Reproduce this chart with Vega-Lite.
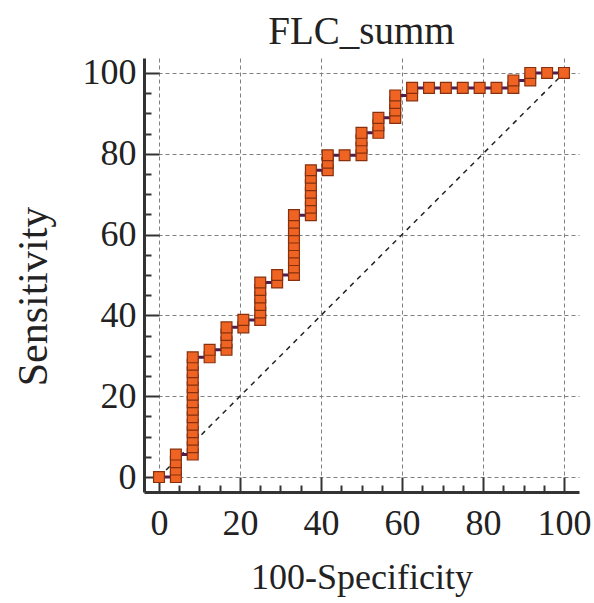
{
  "$schema": "https://vega.github.io/schema/vega-lite/v6.json",
  "width": 435,
  "height": 434,
  "autosize": "none",
  "padding": {"left": 144, "top": 58, "right": 15, "bottom": 111},
  "background": "white",
  "config": {"view": {"stroke": null}},
  "title": {
    "text": "FLC_summ",
    "font": "Liberation Serif",
    "fontSize": 39,
    "fontWeight": "normal",
    "color": "#222222",
    "anchor": "middle",
    "baseline": "alphabetic",
    "offset": 14,
    "dy": 42
  },
  "data": {
    "values": [
      {"ord": 1, "fpr": 0, "sens": 0},
      {"ord": 2, "fpr": 4.17, "sens": 0},
      {"ord": 3, "fpr": 4.17, "sens": 1.85},
      {"ord": 4, "fpr": 4.17, "sens": 3.7},
      {"ord": 5, "fpr": 4.17, "sens": 5.56},
      {"ord": 6, "fpr": 8.33, "sens": 5.56},
      {"ord": 7, "fpr": 8.33, "sens": 7.41},
      {"ord": 8, "fpr": 8.33, "sens": 9.26},
      {"ord": 9, "fpr": 8.33, "sens": 11.11},
      {"ord": 10, "fpr": 8.33, "sens": 12.96},
      {"ord": 11, "fpr": 8.33, "sens": 14.81},
      {"ord": 12, "fpr": 8.33, "sens": 16.67},
      {"ord": 13, "fpr": 8.33, "sens": 18.52},
      {"ord": 14, "fpr": 8.33, "sens": 20.37},
      {"ord": 15, "fpr": 8.33, "sens": 22.22},
      {"ord": 16, "fpr": 8.33, "sens": 24.07},
      {"ord": 17, "fpr": 8.33, "sens": 25.93},
      {"ord": 18, "fpr": 8.33, "sens": 27.78},
      {"ord": 19, "fpr": 8.33, "sens": 29.63},
      {"ord": 20, "fpr": 12.5, "sens": 29.63},
      {"ord": 21, "fpr": 12.5, "sens": 31.48},
      {"ord": 22, "fpr": 16.67, "sens": 31.48},
      {"ord": 23, "fpr": 16.67, "sens": 33.33},
      {"ord": 24, "fpr": 16.67, "sens": 35.19},
      {"ord": 25, "fpr": 16.67, "sens": 37.04},
      {"ord": 26, "fpr": 20.83, "sens": 37.04},
      {"ord": 27, "fpr": 20.83, "sens": 38.89},
      {"ord": 28, "fpr": 25, "sens": 38.89},
      {"ord": 29, "fpr": 25, "sens": 40.74},
      {"ord": 30, "fpr": 25, "sens": 42.59},
      {"ord": 31, "fpr": 25, "sens": 44.44},
      {"ord": 32, "fpr": 25, "sens": 46.3},
      {"ord": 33, "fpr": 25, "sens": 48.15},
      {"ord": 34, "fpr": 29.17, "sens": 48.15},
      {"ord": 35, "fpr": 29.17, "sens": 50},
      {"ord": 36, "fpr": 33.33, "sens": 50},
      {"ord": 37, "fpr": 33.33, "sens": 51.85},
      {"ord": 38, "fpr": 33.33, "sens": 53.7},
      {"ord": 39, "fpr": 33.33, "sens": 55.56},
      {"ord": 40, "fpr": 33.33, "sens": 57.41},
      {"ord": 41, "fpr": 33.33, "sens": 59.26},
      {"ord": 42, "fpr": 33.33, "sens": 61.11},
      {"ord": 43, "fpr": 33.33, "sens": 62.96},
      {"ord": 44, "fpr": 33.33, "sens": 64.81},
      {"ord": 45, "fpr": 37.5, "sens": 64.81},
      {"ord": 46, "fpr": 37.5, "sens": 66.67},
      {"ord": 47, "fpr": 37.5, "sens": 68.52},
      {"ord": 48, "fpr": 37.5, "sens": 70.37},
      {"ord": 49, "fpr": 37.5, "sens": 72.22},
      {"ord": 50, "fpr": 37.5, "sens": 74.07},
      {"ord": 51, "fpr": 37.5, "sens": 75.93},
      {"ord": 52, "fpr": 41.67, "sens": 75.93},
      {"ord": 53, "fpr": 41.67, "sens": 77.78},
      {"ord": 54, "fpr": 41.67, "sens": 79.63},
      {"ord": 55, "fpr": 45.83, "sens": 79.63},
      {"ord": 56, "fpr": 50, "sens": 79.63},
      {"ord": 57, "fpr": 50, "sens": 81.48},
      {"ord": 58, "fpr": 50, "sens": 83.33},
      {"ord": 59, "fpr": 50, "sens": 85.19},
      {"ord": 60, "fpr": 54.17, "sens": 85.19},
      {"ord": 61, "fpr": 54.17, "sens": 87.04},
      {"ord": 62, "fpr": 54.17, "sens": 88.89},
      {"ord": 63, "fpr": 58.33, "sens": 88.89},
      {"ord": 64, "fpr": 58.33, "sens": 90.74},
      {"ord": 65, "fpr": 58.33, "sens": 92.59},
      {"ord": 66, "fpr": 58.33, "sens": 94.44},
      {"ord": 67, "fpr": 62.5, "sens": 94.44},
      {"ord": 68, "fpr": 62.5, "sens": 96.3},
      {"ord": 69, "fpr": 66.67, "sens": 96.3},
      {"ord": 70, "fpr": 70.83, "sens": 96.3},
      {"ord": 71, "fpr": 75, "sens": 96.3},
      {"ord": 72, "fpr": 79.17, "sens": 96.3},
      {"ord": 73, "fpr": 83.33, "sens": 96.3},
      {"ord": 74, "fpr": 87.5, "sens": 96.3},
      {"ord": 75, "fpr": 87.5, "sens": 98.15},
      {"ord": 76, "fpr": 91.67, "sens": 98.15},
      {"ord": 77, "fpr": 91.67, "sens": 100},
      {"ord": 78, "fpr": 95.83, "sens": 100},
      {"ord": 79, "fpr": 100, "sens": 100}
    ]
  },
  "encoding": {
    "x": {
      "field": "fpr",
      "type": "quantitative",
      "scale": {"domain": [-3.7, 103.7], "nice": false, "zero": false},
      "axis": {
        "title": "100-Specificity",
        "values": [0, 5, 10, 15, 20, 25, 30, 35, 40, 45, 50, 55, 60, 65, 70, 75, 80, 85, 90, 95, 100],
        "grid": true,
        "gridColor": "#808080",
        "gridDash": [4, 3],
        "gridWidth": 1,
        "gridOpacity": {"condition": {"test": "datum.value % 20 === 0", "value": 1}, "value": 0},
        "domainColor": "#333333",
        "domainWidth": 3,
        "tickColor": "#333333",
        "tickWidth": 2,
        "tickSize": {"condition": {"test": "datum.value % 20 === 0", "value": -15}, "value": -7},
        "labelExpr": "datum.value % 20 === 0 ? datum.label : ''",
        "labelFlush": false,
        "labelFont": "Liberation Serif",
        "labelFontSize": 36,
        "labelColor": "#222222",
        "labelPadding": 29,
        "titleFont": "Liberation Serif",
        "titleFontSize": 36,
        "titleFontWeight": "normal",
        "titleColor": "#222222",
        "titlePadding": 19
      }
    },
    "y": {
      "field": "sens",
      "type": "quantitative",
      "scale": {"domain": [-3.7, 103.7], "nice": false, "zero": false},
      "axis": {
        "title": "Sensitivity",
        "values": [0, 5, 10, 15, 20, 25, 30, 35, 40, 45, 50, 55, 60, 65, 70, 75, 80, 85, 90, 95, 100],
        "grid": true,
        "gridColor": "#808080",
        "gridDash": [4, 3],
        "gridWidth": 1,
        "gridOpacity": {"condition": {"test": "datum.value % 20 === 0", "value": 1}, "value": 0},
        "domainColor": "#333333",
        "domainWidth": 3,
        "tickColor": "#333333",
        "tickWidth": 2,
        "tickSize": {"condition": {"test": "datum.value % 20 === 0", "value": -15}, "value": -7},
        "labelExpr": "datum.value % 20 === 0 ? datum.label : ''",
        "labelFlush": false,
        "labelFont": "Liberation Serif",
        "labelFontSize": 36,
        "labelColor": "#222222",
        "labelPadding": 23,
        "titleFont": "Liberation Serif",
        "titleFontSize": 42,
        "titleFontWeight": "normal",
        "titleColor": "#222222",
        "titlePadding": 27,
        "titleY": 238
      }
    }
  },
  "layer": [
    {
      "data": {"values": [{"fpr": 0, "sens": 0}, {"fpr": 100, "sens": 100}]},
      "mark": {"type": "line", "color": "#222222", "strokeWidth": 1.5, "strokeDash": [5, 5]},
      "encoding": {}
    },
    {
      "mark": {"type": "line", "color": "#4e1d4f", "strokeWidth": 3},
      "encoding": {"order": {"field": "ord", "type": "quantitative"}}
    },
    {
      "mark": {"type": "point", "shape": "square", "filled": true, "size": 118, "color": "#ef6422", "stroke": "#86300f", "strokeWidth": 1.2, "opacity": 1},
      "encoding": {}
    }
  ]
}
